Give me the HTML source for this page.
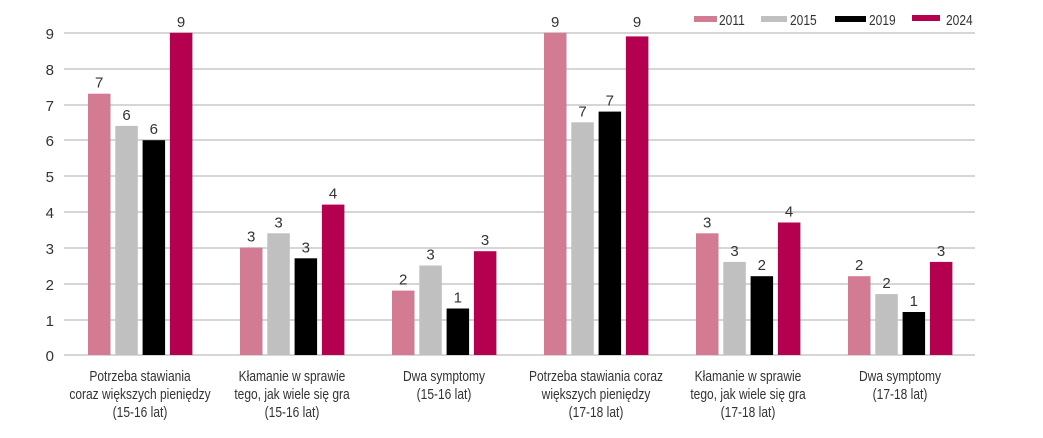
<!DOCTYPE html><html><head><meta charset="utf-8"><style>body{margin:0;background:#fff}svg{display:block}text{font-family:"Liberation Sans Narrow","Liberation Sans",sans-serif;fill:#333;font-size:15px}</style></head><body>
<svg width="1043" height="438" xmlns="http://www.w3.org/2000/svg">
<g stroke="#c8c8c8" stroke-width="1.5">
<line x1="64" x2="975" y1="33" y2="33"/><line x1="64" x2="975" y1="69" y2="69"/><line x1="64" x2="975" y1="105" y2="105"/><line x1="64" x2="975" y1="140" y2="140"/><line x1="64" x2="975" y1="176" y2="176"/><line x1="64" x2="975" y1="212" y2="212"/><line x1="64" x2="975" y1="248" y2="248"/><line x1="64" x2="975" y1="284" y2="284"/><line x1="64" x2="975" y1="320" y2="320"/><line x1="64" x2="975" y1="355" y2="355"/>
</g>
<g text-anchor="end" font-size="16"><text x="54" y="39">9</text><text x="54" y="75">8</text><text x="54" y="111">7</text><text x="54" y="146">6</text><text x="54" y="182">5</text><text x="54" y="218">4</text><text x="54" y="254">3</text><text x="54" y="290">2</text><text x="54" y="326">1</text><text x="54" y="361">0</text></g>
<g>
<rect x="88" y="93.7" width="22.5" height="261.3" fill="#d27b93"/><rect x="115.3" y="125.9" width="22.5" height="229.1" fill="#c0c0c0"/><rect x="142.6" y="140.2" width="22.5" height="214.8" fill="#000"/><rect x="169.9" y="32.8" width="22.5" height="322.2" fill="#b5004f"/>
<rect x="240" y="247.6" width="22.5" height="107.4" fill="#d27b93"/><rect x="267.3" y="233.3" width="22.5" height="121.7" fill="#c0c0c0"/><rect x="294.6" y="258.3" width="22.5" height="96.7" fill="#000"/><rect x="321.9" y="204.6" width="22.5" height="150.4" fill="#b5004f"/>
<rect x="392" y="290.6" width="22.5" height="64.4" fill="#d27b93"/><rect x="419.3" y="265.5" width="22.5" height="89.5" fill="#c0c0c0"/><rect x="446.6" y="308.5" width="22.5" height="46.5" fill="#000"/><rect x="473.9" y="251.2" width="22.5" height="103.8" fill="#b5004f"/>
<rect x="544" y="32.8" width="22.5" height="322.2" fill="#d27b93"/><rect x="571.3" y="122.3" width="22.5" height="232.7" fill="#c0c0c0"/><rect x="598.6" y="111.6" width="22.5" height="243.4" fill="#000"/><rect x="625.9" y="36.4" width="22.5" height="318.6" fill="#b5004f"/>
<rect x="696" y="233.3" width="22.5" height="121.7" fill="#d27b93"/><rect x="723.3" y="261.9" width="22.5" height="93.1" fill="#c0c0c0"/><rect x="750.6" y="276.2" width="22.5" height="78.8" fill="#000"/><rect x="777.9" y="222.5" width="22.5" height="132.5" fill="#b5004f"/>
<rect x="848" y="276.2" width="22.5" height="78.8" fill="#d27b93"/><rect x="875.3" y="294.1" width="22.5" height="60.9" fill="#c0c0c0"/><rect x="902.6" y="312" width="22.5" height="43" fill="#000"/><rect x="929.9" y="261.9" width="22.5" height="93.1" fill="#b5004f"/>
</g>
<g text-anchor="middle" font-size="16">
<text x="99.2" y="87.7">7</text><text x="126.5" y="119.9">6</text><text x="153.8" y="134.2">6</text><text x="181.1" y="26.8">9</text>
<text x="251.2" y="241.6">3</text><text x="278.5" y="227.3">3</text><text x="305.8" y="252.3">3</text><text x="333.1" y="198.6">4</text>
<text x="403.2" y="284.6">2</text><text x="430.5" y="259.5">3</text><text x="457.8" y="302.5">1</text><text x="485.1" y="245.2">3</text>
<text x="555.2" y="26.8">9</text><text x="582.5" y="116.3">7</text><text x="609.8" y="105.6">7</text><text x="637.1" y="26.8">9</text>
<text x="707.2" y="227.3">3</text><text x="734.5" y="255.9">3</text><text x="761.8" y="270.2">2</text><text x="789.1" y="216.5">4</text>
<text x="859.2" y="270.2">2</text><text x="886.5" y="288.1">2</text><text x="913.8" y="306">1</text><text x="941.1" y="255.9">3</text>
</g>
<g text-anchor="middle" font-size="16">
<g transform="translate(140,0) scale(0.8,1)"><text x="0" y="381">Potrzeba stawiania</text><text x="0" y="399">coraz większych pieniędzy</text><text x="0" y="417">(15-16 lat)</text></g>
<g transform="translate(292,0) scale(0.8,1)"><text x="0" y="381">Kłamanie w sprawie</text><text x="0" y="399">tego, jak wiele się gra</text><text x="0" y="417">(15-16 lat)</text></g>
<g transform="translate(444,0) scale(0.8,1)"><text x="0" y="381">Dwa symptomy</text><text x="0" y="399">(15-16 lat)</text></g>
<g transform="translate(596,0) scale(0.8,1)"><text x="0" y="381">Potrzeba stawiania coraz</text><text x="0" y="399">większych pieniędzy</text><text x="0" y="417">(17-18 lat)</text></g>
<g transform="translate(748,0) scale(0.8,1)"><text x="0" y="381">Kłamanie w sprawie</text><text x="0" y="399">tego, jak wiele się gra</text><text x="0" y="417">(17-18 lat)</text></g>
<g transform="translate(900,0) scale(0.8,1)"><text x="0" y="381">Dwa symptomy</text><text x="0" y="399">(17-18 lat)</text></g>
</g>
<rect x="694" y="16" width="23" height="6" fill="#d27b93"/><g transform="translate(719,0) scale(0.8,1)"><text x="0" y="25" font-size="16">2011</text></g>
<rect x="761" y="16" width="26" height="6" fill="#c0c0c0"/><g transform="translate(790,0) scale(0.8,1)"><text x="0" y="25" font-size="16">2015</text></g>
<rect x="835" y="16" width="31" height="6" fill="#000"/><g transform="translate(869,0) scale(0.8,1)"><text x="0" y="25" font-size="16">2019</text></g>
<rect x="912" y="15" width="28" height="6" fill="#b5004f"/><g transform="translate(946,0) scale(0.8,1)"><text x="0" y="25" font-size="16">2024</text></g>
</svg></body></html>
